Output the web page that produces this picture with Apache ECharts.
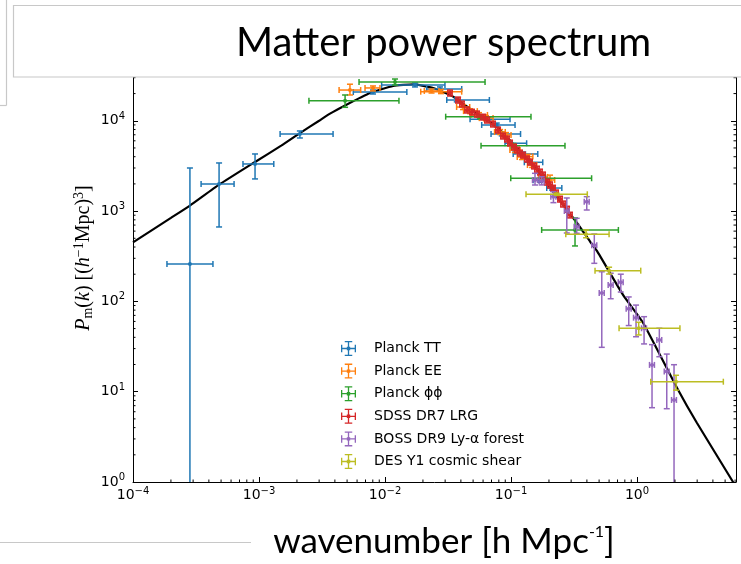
<!DOCTYPE html>
<html><head><meta charset="utf-8">
<script src="https://cdn.jsdelivr.net/npm/echarts@6/dist/echarts.min.js"></script>
<style>html,body{margin:0;padding:0;background:#fff}#c{width:741px;height:564px}</style>
</head><body><div id="c"></div>
<script>
// ---------------- data ----------------
const seriesNames = ['Planck TT','Planck EE','Planck ϕϕ','SDSS DR7 LRG','BOSS DR9 Ly-α forest','DES Y1 cosmic shear'];
const seriesColors = ['#1f77b4','#ff7f0e','#2ca02c','#d62728','#9467bd','#bcbd22'];
const xTickLabels = ['10^-4','10^-3','10^-2','10^-1','10^0'];
const yTickLabels = ['10^0','10^1','10^2','10^3','10^4'];

// theory curve: k [h/Mpc], P [(Mpc/h)^3]
const curveK = [1e-4, 2e-4, 2.83e-4, 4.82e-4, 9.3e-4, 1.5e-3, 2.11e-3, 3.0e-3, 3.66e-3, 4.82e-3, 7.6e-3, 0.0116, 0.0168, 0.0241, 0.0347, 0.050, 0.0774, 0.1116, 0.161, 0.232, 0.334, 0.424, 0.482, 0.774, 1.116, 2.078, 2.99, 5.78, 6.5];
const curveP = [450, 840, 1150, 1960, 3500, 5300, 7300, 10000, 12000, 14800, 20300, 24300, 25300, 23100, 18500, 12800, 8530, 5000, 2850, 1430, 738, 460, 360, 118, 58, 11.0, 4.5, 1.0, 0.75];

// error-bar points: [k, P, kLow, kHigh, PLow, PHigh]
const planckTT = [
  [2.83e-4, 259, 1.86e-4, 4.31e-4, 0.05, 3000],
  [4.82e-4, 1995, 3.47e-4, 6.34e-4, 667, 3410],
  [9.30e-4, 3325, 7.46e-4, 1.31e-3, 2270, 4290],
  [2.11e-3, 7140, 1.47e-3, 3.87e-3, 6450, 7710],
  [8.03e-3, 20800, 5.6e-3, 0.0149, 19800, 21900],
  [0.0173, 24900, 9.4e-3, 0.0299, 23700, 26200],
  [0.0273, 22500, 0.0214, 0.0406, 21400, 23700],
  [0.0371, 17000, 0.0309, 0.0673, 16200, 17900],
  [0.0661, 10400, 0.0473, 0.0982, 9900, 10900],
  [0.0770, 8980, 0.0585, 0.1076, 8550, 9430],
  [0.0844, 7140, 0.0694, 0.119, 6800, 7500],
  [0.0982, 5640, 0.0896, 0.133, 5370, 5920],
  [0.125, 4290, 0.104, 0.163, 4080, 4510],
  [0.1415, 3470, 0.1275, 0.1785, 3300, 3650],
  [0.170, 2190, 0.1496, 0.192, 2080, 2300],
  [0.2115, 1800, 0.192, 0.253, 1710, 1890]
];
const planckEE = [
  [5.27e-3, 21900, 4.32e-3, 6.41e-3, 19300, 25400],
  [8.03e-3, 23100, 6.94e-3, 9.12e-3, 21400, 24300],
  [0.0234, 21400, 0.0205, 0.0268, 20300, 22500],
  [0.0278, 21000, 0.0192, 0.0406, 20000, 22200],
  [0.0416, 14200, 0.0370, 0.0470, 13300, 15100],
  [0.0473, 12800, 0.0420, 0.0540, 12000, 13600],
  [0.0557, 11600, 0.0480, 0.0650, 10900, 12300],
  [0.0633, 10700, 0.0560, 0.0720, 10000, 11400],
  [0.0818, 7520, 0.0740, 0.0900, 7050, 8000],
  [0.0912, 6970, 0.0830, 0.1000, 6550, 7400],
  [0.1076, 4750, 0.0980, 0.1180, 4450, 5050],
  [0.1223, 3970, 0.1120, 0.1340, 3720, 4220],
  [0.137, 4010, 0.126, 0.149, 3780, 4250],
  [0.147, 3240, 0.135, 0.160, 3040, 3440],
  [0.1795, 2390, 0.165, 0.195, 2240, 2540],
  [0.204, 2210, 0.188, 0.222, 1950, 2500]
];
const planckPhiPhi = [
  [4.82e-3, 16700, 2.49e-3, 0.0129, 14100, 19300],
  [0.0120, 26900, 6.22e-3, 0.0622, 24900, 29000],
  [0.0568, 11100, 0.0303, 0.144, 10500, 11700],
  [0.1043, 5300, 0.0578, 0.268, 5000, 5600],
  [0.1804, 2310, 0.0995, 0.436, 2150, 2480],
  [0.322, 618, 0.175, 0.711, 411, 839]
];
const sdssLRG = [
  [0.0328, 20300, 0.0315, 0.0341, 18800, 21900],
  [0.0380, 17000, 0.0365, 0.0395, 15700, 18300],
  [0.0408, 15300, 0.0392, 0.0424, 14200, 16500],
  [0.0448, 13200, 0.0430, 0.0466, 12200, 14200],
  [0.0490, 12500, 0.0470, 0.0510, 11600, 13400],
  [0.0537, 11900, 0.0516, 0.0558, 11000, 12800],
  [0.0600, 11000, 0.0576, 0.0624, 10200, 11800],
  [0.0645, 10200, 0.0619, 0.0671, 9450, 11000],
  [0.0720, 9230, 0.0691, 0.0749, 8550, 9900],
  [0.0789, 7910, 0.0757, 0.0821, 7320, 8500],
  [0.0865, 6790, 0.0830, 0.0900, 6290, 7290],
  [0.0929, 6290, 0.0892, 0.0966, 5820, 6760],
  [0.0982, 5680, 0.0943, 0.1021, 5260, 6100],
  [0.1057, 5130, 0.1015, 0.1099, 4750, 5510],
  [0.1116, 4750, 0.1071, 0.1161, 4400, 5100],
  [0.1179, 4400, 0.1132, 0.1226, 4070, 4730],
  [0.1245, 4180, 0.1195, 0.1295, 3870, 4490],
  [0.1339, 3780, 0.1285, 0.1393, 3500, 4060],
  [0.1415, 3500, 0.1358, 0.1472, 3240, 3760],
  [0.1524, 3160, 0.1463, 0.1585, 2930, 3390],
  [0.1607, 2920, 0.1543, 0.1671, 2700, 3140],
  [0.1699, 2710, 0.1631, 0.1767, 2510, 2910],
  [0.1795, 2510, 0.1723, 0.1867, 2320, 2700],
  [0.1931, 2100, 0.1854, 0.2008, 1940, 2260],
  [0.2040, 1950, 0.1958, 0.2122, 1800, 2100],
  [0.2155, 1800, 0.2069, 0.2241, 1670, 1930],
  [0.2276, 1590, 0.2185, 0.2367, 1470, 1710],
  [0.2449, 1360, 0.2351, 0.2547, 1260, 1460],
  [0.2587, 1200, 0.2484, 0.2690, 1110, 1290],
  [0.2783, 1050, 0.2672, 0.2894, 970, 1130],
  [0.2938, 905, 0.2820, 0.3056, 840, 970]
];
const bossLya = [
  [0.155, 2210, 0.148, 0.162, 1945, 2620],
  [0.175, 2150, 0.167, 0.183, 1950, 2400],
  [0.217, 1443, 0.207, 0.227, 1240, 1640],
  [0.277, 1002, 0.265, 0.289, 572, 1397],
  [0.332, 672, 0.317, 0.347, 568, 832],
  [0.399, 1270, 0.381, 0.417, 1028, 1443],
  [0.458, 418, 0.437, 0.479, 264, 557],
  [0.525, 124, 0.501, 0.549, 31, 213],
  [0.618, 152, 0.590, 0.646, 107, 205],
  [0.743, 163, 0.710, 0.776, 127, 200],
  [0.859, 83, 0.820, 0.898, 54, 112],
  [0.982, 66, 0.938, 1.026, 40.6, 91],
  [1.137, 50.4, 1.086, 1.188, 33.8, 67.7],
  [1.315, 19.8, 1.256, 1.374, 6.65, 33.2],
  [1.503, 37.4, 1.436, 1.570, 24.4, 50.4],
  [1.721, 16.7, 1.644, 1.798, 6.48, 26.1],
  [1.966, 8.1, 1.878, 2.054, 0.05, 19.9]
];
const desY1 = [
  [0.2305, 1535, 0.1315, 0.403, 1495, 1575],
  [0.394, 553, 0.272, 0.600, 507, 618],
  [0.600, 219, 0.464, 1.07, 201, 239],
  [1.031, 50.4, 0.720, 2.19, 42.5, 58.7],
  [2.04, 12.9, 1.285, 4.84, 10.4, 15.2]
];
const pointSets = [planckTT, planckEE, planckPhiPhi, sdssLRG, bossLya, desY1];

// ---------------- chart ----------------
const X_MIN = 1e-4, X_MAX = 6.1, Y_MIN = 1, Y_MAX = 47100;
const chart = echarts.init(document.getElementById('c'), null, {renderer: 'canvas'});

function powLabel(v) {
  const e = Math.log10(v), r = Math.round(e);
  if (Math.abs(e - r) > 1e-6) return '';
  return '{b|10}{s|' + (r < 0 ? '\u2212' + (-r) : r) + '}';
}
const labelRich = {
  b: {fontFamily: 'DejaVu Sans', fontSize: 14, color: '#000'},
  s: {fontFamily: 'DejaVu Sans', fontSize: 10, color: '#000', padding: [0, 0, 9, 0]}
};

function errRender(color) {
  return function (params, api) {
    const k = api.value(0), P = api.value(1), kl = api.value(2), kh = api.value(3), pl = api.value(4), ph = api.value(5);
    const c = api.coord([k, P]), l = api.coord([kl, P]), r = api.coord([kh, P]);
    const t = api.coord([k, ph]), b = api.coord([k, pl]);
    const cs = 3;
    const st = () => ({stroke: color, lineWidth: 1.5});
    return {type: 'group', children: [
      {type: 'line', shape: {x1: l[0], y1: c[1], x2: r[0], y2: c[1]}, style: st()},
      {type: 'line', shape: {x1: c[0], y1: t[1], x2: c[0], y2: b[1]}, style: st()},
      {type: 'line', shape: {x1: l[0], y1: c[1] - cs, x2: l[0], y2: c[1] + cs}, style: st()},
      {type: 'line', shape: {x1: r[0], y1: c[1] - cs, x2: r[0], y2: c[1] + cs}, style: st()},
      {type: 'line', shape: {x1: c[0] - cs, y1: t[1], x2: c[0] + cs, y2: t[1]}, style: st()},
      {type: 'line', shape: {x1: c[0] - cs, y1: b[1], x2: c[0] + cs, y2: b[1]}, style: st()},
      {type: 'circle', shape: {cx: c[0], cy: c[1], r: 2}, style: {fill: color}}
    ]};
  };
}

const xMinor = [], yMinor = [];
for (let e = -4; e <= 0; e++) for (let m = 2; m <= 9; m++) { const v = m * Math.pow(10, e); if (v < X_MAX) xMinor.push([v, Y_MIN]); }
for (let e = 0; e <= 4; e++) for (let m = 2; m <= 9; m++) { const v = m * Math.pow(10, e); if (v < Y_MAX) yMinor.push([X_MIN, v]); }

const tickLine = (x1, y1, x2, y2) => ({type: 'line', shape: {x1, y1, x2, y2}, style: {stroke: '#000', lineWidth: 1}});

const series = [{
  type: 'line', name: 'theory', data: curveK.map((k, i) => [k, curveP[i]]),
  showSymbol: false, smooth: 0.15, lineStyle: {color: '#000', width: 2.2}, z: 1, clip: true, silent: true
}];
pointSets.forEach((set, i) => {
  series.push({
    type: 'custom', name: seriesNames[i], data: set, renderItem: errRender(seriesColors[i]),
    itemStyle: {color: seriesColors[i]}, encode: {x: 0, y: 1}, clip: true, z: 3 + i
  });
});
series.push({
  type: 'custom', name: 'xminor', data: xMinor, encode: {x: 0, y: 1}, clip: false, silent: true, z: 20,
  renderItem: (p, api) => { const b = api.coord([api.value(0), Y_MIN]); const t = api.coord([api.value(0), Y_MAX]);
    return {type: 'group', children: [tickLine(b[0], b[1], b[0], b[1] - 2.5), tickLine(t[0], t[1], t[0], t[1] + 2.5)]}; }
});
series.push({
  type: 'custom', name: 'yminor', data: yMinor, encode: {x: 0, y: 1}, clip: false, silent: true, z: 20,
  renderItem: (p, api) => { const l = api.coord([X_MIN, api.value(1)]); const r = api.coord([X_MAX, api.value(1)]);
    return {type: 'group', children: [tickLine(l[0], l[1], l[0] + 2.5, l[1]), tickLine(r[0], r[1], r[0] - 2.5, r[1])]}; }
});

const legendIcon = 'path://M2,9.3h16v1.4h-16z M2,6h1.4v8h-1.4z M16.6,6h1.4v8h-1.4z M9.3,2h1.4v16h-1.4z M6,2h8v1.4h-8z M6,16.6h8v1.4h-8z M8.2,8.2h3.6v3.6h-3.6z';

const axisCommon = {
  type: 'log', logBase: 10,
  axisLine: {show: true, lineStyle: {color: '#000', width: 1}},
  axisTick: {show: true, inside: true, length: 5, lineStyle: {color: '#000', width: 1}},
  splitLine: {show: false}, minorTick: {show: false}
};

const option = {
  animation: false,
  backgroundColor: '#fff',
  grid: {left: 133, right: 5, top: 60, bottom: 82, show: false},
  xAxis: [
    Object.assign({}, axisCommon, {min: X_MIN, max: X_MAX, position: 'bottom',
      axisLabel: {formatter: powLabel, rich: labelRich, margin: 4, color: '#000'}}),
    Object.assign({}, axisCommon, {min: X_MIN, max: X_MAX, position: 'top', axisLabel: {show: false}})
  ],
  yAxis: [
    Object.assign({}, axisCommon, {min: Y_MIN, max: Y_MAX, position: 'left',
      axisLabel: {formatter: powLabel, rich: labelRich, margin: 8, color: '#000'}}),
    Object.assign({}, axisCommon, {min: Y_MIN, max: Y_MAX, position: 'right', axisLabel: {show: false}})
  ],
  legend: {
    orient: 'vertical', left: 336, top: 336, itemWidth: 17, itemHeight: 15, itemGap: 7.6,
    data: seriesNames.map(n => ({name: n, icon: legendIcon})),
    textStyle: {fontFamily: 'DejaVu Sans', fontSize: 14, color: '#000', padding: [0, 0, 0, 12]},
    selectedMode: false
  },
  series: series,
  graphic: [
    {type: 'line', z: 100, shape: {x1: 6.5, y1: 0, x2: 6.5, y2: 105.5}, style: {stroke: '#c8c8c8', lineWidth: 1.2}},
    {type: 'line', z: 100, shape: {x1: 0, y1: 105.5, x2: 6.5, y2: 105.5}, style: {stroke: '#c8c8c8', lineWidth: 1.2}},
    {type: 'rect', z: 100, shape: {x: 13.5, y: 5.5, width: 740, height: 71.5}, style: {fill: '#fff', stroke: '#c8c8c8', lineWidth: 1.2}},
    {type: 'text', z: 101, x: 443.5, y: 43, style: {text: 'Matter power spectrum', fontFamily: 'Lato', fontSize: 40, fill: '#000', align: 'center', verticalAlign: 'middle'}},
    {type: 'text', z: 101, x: 444, y: 542, style: {
      text: '{a|wavenumber [h Mpc}{s|-1}{a|]}', align: 'center', verticalAlign: 'middle',
      rich: {a: {fontFamily: 'Lato', fontSize: 35, fill: '#000'}, s: {fontFamily: 'Lato', fontSize: 16, fill: '#000', padding: [0, 0, 20, 0]}}}},
    {type: 'line', z: 100, shape: {x1: 0, y1: 542.5, x2: 251, y2: 542.5}, style: {stroke: '#c8c8c8', lineWidth: 1.2}},
    {type: 'text', z: 101, x: 84, y: 258, rotation: Math.PI / 2, style: {
      text: '{i|P}{sub|m}{n|(}{i|k}{n|) [(}{i|h}{sup|\u22121}{n|Mpc)}{sup|3}{n|]}', align: 'center', verticalAlign: 'middle',
      rich: {
        i: {fontFamily: 'Liberation Serif', fontStyle: 'italic', fontSize: 20, fill: '#000'},
        n: {fontFamily: 'Liberation Serif', fontSize: 20, fill: '#000'},
        sub: {fontFamily: 'Liberation Serif', fontSize: 14, fill: '#000', padding: [8, 0, 0, 0]},
        sup: {fontFamily: 'Liberation Serif', fontSize: 14, fill: '#000', padding: [0, 0, 10, 0]}
      }}}
  ]
};
chart.setOption(option);
</script>
</body></html>
